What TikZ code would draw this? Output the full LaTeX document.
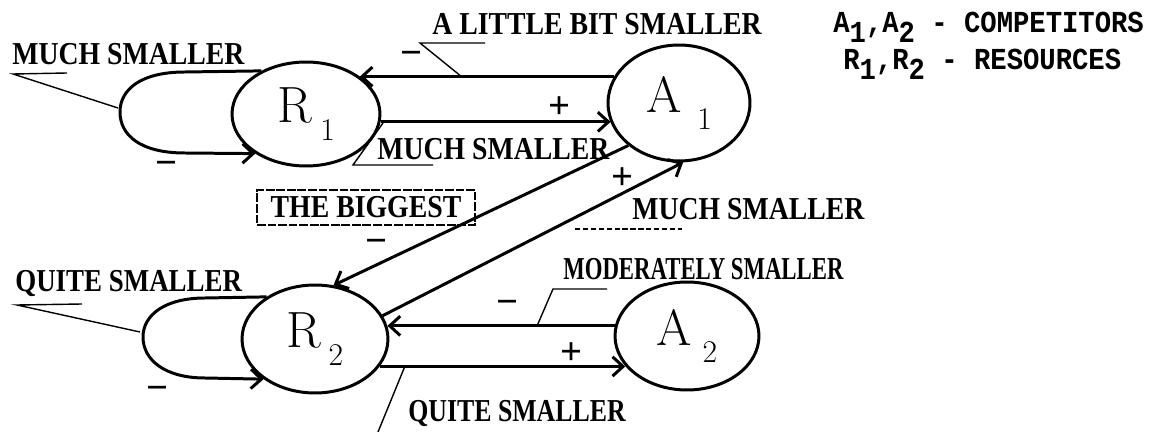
\documentclass[tikz,border=0pt]{standalone}
\usepackage{fontspec}
\usepackage{graphicx}
\newfontfamily\lblfont{Liberation Serif}
\newfontfamily\legfont{Liberation Mono}
\usetikzlibrary{shapes.geometric,arrows.meta}
\tikzset{
  ell/.style={ellipse, draw, line width=1.7pt, inner sep=0pt},
  edge/.style={line width=1.7pt},
  arr/.style={edge, -{Straight Barb[length=6pt,width=11pt]}},
  lead/.style={line width=0.8pt},
  lbl/.style={font=\lblfont\bfseries\fontsize{15.8}{17}\selectfont, inner sep=0pt, anchor=base west},
  sgn/.style={font=\lblfont\bfseries\fontsize{22}{22}\selectfont, inner sep=0pt},
  leg/.style={font=\legfont\bfseries\fontsize{15.5}{17}\selectfont, inner sep=0pt, anchor=base west},
}
\newcommand\nlab[3]{{\fontsize{29}{30}\selectfont #1}\hspace{#3}\raisebox{-10pt}{\fontsize{18}{18}\selectfont #2}}
\newcommand\lt[2]{\scalebox{#1}[1.15]{#2}}
\newcommand\lsub[1]{\raisebox{-0.3em}{#1}}
\newcommand\legtxt[1]{\scalebox{1}[1.12]{#1}}
\begin{document}
\begin{tikzpicture}[x=0.02cm,y=-0.02cm]
\useasboundingbox (0,0) rectangle (1164,432);
% nodes
\node[ell, minimum width=2.96cm, minimum height=2.08cm] (R1) at (306,114) {\nlab{R}{1}{5pt}};
\node[ell, minimum width=2.84cm, minimum height=2.32cm] (A1) at (679,103) {\nlab{A}{1}{9pt}};
\node[ell, minimum width=2.92cm, minimum height=2.16cm] (R2) at (315,339) {\nlab{R}{2}{4pt}};
\node[ell, minimum width=2.88cm, minimum height=2.16cm] (A2) at (687,336) {\nlab{A}{2}{6pt}};
% self loops
\draw[arr] (R1.136) -- (185,72) .. controls (140,72) and (120,90) .. (120,112)
  .. controls (120,135) and (140,153) .. (185,153) -- (R1.218.5);
\draw[arr] (R2.139) -- (205,298) .. controls (165,298) and (143,315) .. (143,337)
  .. controls (143,360) and (165,378) .. (205,378) -- (R2.218);
% horizontal edges
\draw[arr] (A1.158) -- (A1.158 -| R1.35);
\draw[arr] (R1.-6) -- (R1.-6 -| A1.196);
\draw[arr] (A2.172) -- (A2.172 -| R2.10);
\draw[arr] (R2.-23) -- (R2.-23 -| A2.206);
% diagonal edges
\draw[arr] (A1.220) -- (R2.71);
\draw[arr] (R2.19) -- (A1.-86);
% signs
\node[sgn] (s1) at (412,58) {−};
\node[sgn] (s2) at (560,108) {+};
\node[sgn] (s3) at (167,168) {−};
\node[sgn] (s4) at (377,246) {−};
\node[sgn] (s5) at (623,179) {+};
\node[sgn] (s6) at (508,307) {−};
\node[sgn] (s7) at (572,354) {+};
\node[sgn] (s8) at (158,393) {−};
% labels
\node[lbl] (t1) at (12,65) {\lt{1}{MUCH SMALLER}};
\node[lbl] (t2) at (432,35) {\lt{1}{A LITTLE BIT SMALLER}};
\node[lbl] (t3) at (377,160) {\lt{1}{MUCH SMALLER}};
\node[lbl] (t4) at (632,220) {\lt{1}{MUCH SMALLER}};
\node[lbl] (t5) at (563,280) {\lt{0.82}{MODERATELY SMALLER}};
\node[lbl] (t6) at (15,292) {\lt{0.97}{QUITE SMALLER}};
\node[lbl] (t7) at (408,421) {\lt{0.93}{QUITE SMALLER}};
\node[lbl, anchor=center, draw, line width=0.8pt, dash pattern=on 5pt off 1pt,
  minimum width=4.36cm, minimum height=0.7cm] (big) at (366,207.5) {\lt{1}{THE BIGGEST}};
% legend
\node[leg] (leg1) at (833,33) {\legtxt{A\lsub{1},A\lsub{2} - COMPETITORS}};
\node[leg] (leg2) at (843,70) {\legtxt{R\lsub{1},R\lsub{2} - RESOURCES}};
% leaders
\coordinate (a1) at (67,73); \coordinate (a2) at (13,74); \coordinate (a3) at (118,108);
\draw[lead] (a1) -- (a2) -- (a3);
\coordinate (b1) at (82,304); \coordinate (b2) at (17,305); \coordinate (b3) at (140,332);
\draw[lead] (b1) -- (b2) -- (b3);
\coordinate (c1) at (485,43); \coordinate (c2) at (420,43); \coordinate (c3) at (462,77);
\draw[lead] (c1) -- (c2) -- (c3);
\coordinate (d1) at (383,123); \coordinate (d2) at (353,165); \coordinate (d3) at (433,165);
\draw[lead] (d1) -- (d2) -- (d3);
\coordinate (e1) at (575,229); \coordinate (e2) at (682,229);
\draw[lead, dash pattern=on 3pt off 1.5pt] (e1) -- (e2);
\coordinate (f1) at (537,326); \coordinate (f2) at (553,289); \coordinate (f3) at (607,289);
\draw[lead] (f1) -- (f2) -- (f3);
\coordinate (g1) at (405,366); \coordinate (g2) at (378,432);
\draw[lead] (g1) -- (g2);
\end{tikzpicture}
\end{document}
